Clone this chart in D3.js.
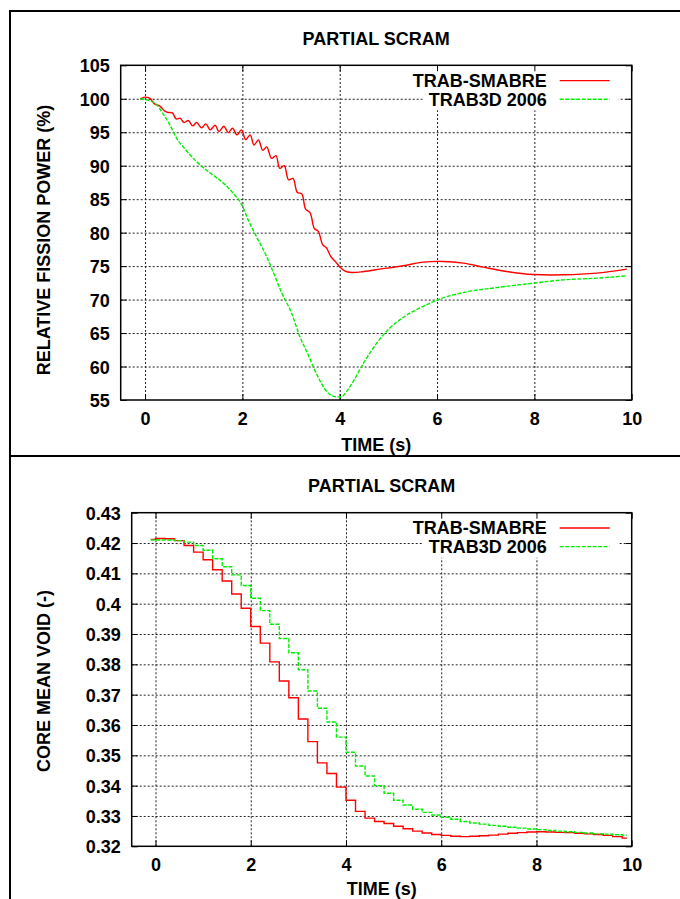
<!DOCTYPE html>
<html>
<head>
<meta charset="utf-8">
<script src="https://cdn.jsdelivr.net/npm/d3@7"></script>
<style>
  html, body { margin: 0; padding: 0; background: #fff; }
  svg { display: block; }
  text { font-family: "Liberation Sans", Arial, Helvetica, sans-serif; font-weight: bold; fill: #000; }
</style>
</head>
<body>
<svg id="chart" width="680" height="899"></svg>
<script>
// ---- Data: partial scram transient, TRAB-SMABRE vs TRAB3D 2006 ----

// Relative fission power (%) vs time (s)
const powerSmabre = [
  [-0.1, 100.0], [0.0, 100.25], [0.1, 100.05], [0.2, 99.2], [0.3, 98.95], [0.4, 98.2],
  [0.48, 97.95], [0.56, 97.9], [0.64, 97.0], [0.72, 97.1], [0.80, 96.45], [0.89, 96.75],
  [0.98, 95.95], [1.06, 96.45], [1.16, 95.65], [1.25, 96.25], [1.34, 95.35], [1.44, 96.05],
  [1.52, 95.1], [1.62, 95.9], [1.71, 94.95], [1.80, 95.6], [1.89, 94.6], [1.98, 95.35],
  [2.07, 93.9], [2.16, 94.6], [2.24, 93.1], [2.33, 93.85], [2.42, 92.3], [2.50, 92.8],
  [2.60, 91.1], [2.69, 91.5], [2.77, 89.6], [2.86, 90.0], [2.95, 87.9], [3.04, 88.1],
  [3.13, 86.0], [3.22, 85.8], [3.30, 83.5], [3.39, 83.0], [3.48, 80.6], [3.56, 80.2],
  [3.65, 78.2], [3.73, 77.7], [3.82, 76.4], [3.92, 75.6], [4.0, 74.9], [4.1, 74.3],
  [4.25, 74.05], [4.5, 74.2], [4.83, 74.55], [5.3, 75.05], [5.72, 75.6], [6.13, 75.7],
  [6.54, 75.45], [6.95, 74.85], [7.43, 74.2], [7.98, 73.75], [8.6, 73.7], [9.28, 73.95],
  [9.9, 74.55]
];
const powerTrab3d = [
  [-0.1, 100.0], [0.1, 99.7], [0.24, 99.1], [0.34, 98.1], [0.51, 96.1], [0.65, 94.1],
  [0.82, 92.5], [1.06, 90.6], [1.34, 88.9], [1.61, 87.4], [1.81, 85.9], [1.99, 84.15],
  [2.12, 81.9], [2.29, 79.4], [2.5, 76.4], [2.64, 74.0], [2.81, 71.0], [3.01, 68.0],
  [3.18, 64.5], [3.35, 61.8], [3.53, 58.8], [3.73, 56.3], [3.9, 55.5], [4.02, 55.45],
  [4.21, 57.0], [4.49, 60.5], [4.76, 63.5], [5.03, 65.75], [5.38, 67.7], [5.72, 69.0],
  [6.06, 70.1], [6.54, 71.05], [7.23, 71.8], [7.98, 72.45], [8.6, 72.95], [9.28, 73.2],
  [9.9, 73.55]
];

// Core mean void (-) vs time (s)
const voidSmabre = [
  [-0.1, 0.4212], [0.1, 0.4215], [0.3, 0.4214], [0.5, 0.4208], [0.7, 0.4192], [0.9, 0.4170],
  [1.1, 0.4145], [1.3, 0.4112], [1.5, 0.4075], [1.7, 0.4032], [1.9, 0.3985], [2.1, 0.3925],
  [2.3, 0.3870], [2.5, 0.3808], [2.7, 0.3745], [2.9, 0.3690], [3.1, 0.3620], [3.3, 0.3545],
  [3.5, 0.3475], [3.7, 0.3440], [3.9, 0.3395], [4.1, 0.3352], [4.3, 0.3315], [4.5, 0.3293],
  [4.7, 0.3282], [4.9, 0.3275], [5.1, 0.3266], [5.3, 0.3258], [5.5, 0.3250], [5.7, 0.3244],
  [5.9, 0.3239], [6.1, 0.3236], [6.3, 0.3233], [6.5, 0.3232], [6.7, 0.3233], [6.9, 0.3235],
  [7.1, 0.3237], [7.3, 0.3240], [7.5, 0.3243], [7.7, 0.3245], [7.9, 0.3247], [8.1, 0.3248],
  [8.3, 0.3247], [8.5, 0.3246], [8.7, 0.3245], [8.9, 0.3243], [9.1, 0.3241], [9.3, 0.3239],
  [9.5, 0.3236], [9.7, 0.3232], [9.9, 0.3227]
];
const voidTrab3d = [
  [-0.1, 0.4210], [0.1, 0.4210], [0.3, 0.4210], [0.5, 0.4208], [0.7, 0.4203], [0.9, 0.4192],
  [1.1, 0.4176], [1.3, 0.4148], [1.5, 0.4122], [1.7, 0.4095], [1.9, 0.4060], [2.1, 0.4018],
  [2.3, 0.3977], [2.5, 0.3932], [2.7, 0.3885], [2.9, 0.3838], [3.1, 0.3782], [3.3, 0.3712],
  [3.5, 0.3655], [3.7, 0.3610], [3.9, 0.3560], [4.1, 0.3510], [4.3, 0.3465], [4.5, 0.3432],
  [4.7, 0.3400], [4.9, 0.3375], [5.1, 0.3352], [5.3, 0.3336], [5.5, 0.3322], [5.7, 0.3312],
  [5.9, 0.3303], [6.1, 0.3296], [6.3, 0.3289], [6.5, 0.3282], [6.7, 0.3277], [6.9, 0.3273],
  [7.1, 0.3269], [7.3, 0.3266], [7.5, 0.3263], [7.7, 0.3260], [7.9, 0.3257], [8.1, 0.3255],
  [8.3, 0.3252], [8.5, 0.3250], [8.7, 0.3248], [8.9, 0.3246], [9.1, 0.3244], [9.3, 0.3241],
  [9.5, 0.3240], [9.7, 0.3238], [9.9, 0.3237]
];

// Axis ticks and labels
const timeTicks = [0, 2, 4, 6, 8, 10];
const powerTicks = [55, 60, 65, 70, 75, 80, 85, 90, 95, 100, 105];
const voidTicks = [0.32, 0.33, 0.34, 0.35, 0.36, 0.37, 0.38, 0.39, 0.40, 0.41, 0.42, 0.43];
const seriesNames = ["TRAB-SMABRE", "TRAB3D 2006"];
const panelTitle = "PARTIAL SCRAM";
const timeLabel = "TIME (s)";
const powerLabel = "RELATIVE FISSION POWER (%)";
const voidLabel = "CORE MEAN VOID (-)";

const RED = "#ff0000", GREEN = "#00ee00";
const FONT = 18;

const svg = d3.select("#chart");
svg.append("rect").attr("width", 680).attr("height", 899).attr("fill", "#fff");

// Outer frame and divider between the two panels
svg.append("path").attr("d", "M10,899V11H680").attr("fill", "none")
  .attr("stroke", "#000").attr("stroke-width", 2);
svg.append("line").attr("x1", 10).attr("x2", 680).attr("y1", 456).attr("y2", 456)
  .attr("stroke", "#000").attr("stroke-width", 2);

function drawPanel(cfg) {
  const { left, right, top, bottom } = cfg.box;
  const w = right - left, h = bottom - top;
  const g = svg.append("g").attr("transform", `translate(${left},${top})`);
  const x = d3.scaleLinear().domain([-0.5, 10]).range([0, w]);
  const y = d3.scaleLinear().domain(cfg.yDomain).range([h, 0]);
  const clipId = "clip-" + cfg.id;
  g.append("clipPath").attr("id", clipId).append("rect").attr("width", w).attr("height", h);

  // dotted grid
  const gridStyle = sel => {
    sel.select(".domain").remove();
    sel.selectAll("line").attr("stroke", "#222").attr("stroke-width", 1)
      .attr("stroke-dasharray", "2,2");
  };
  g.append("g").attr("transform", `translate(0,${h})`)
    .call(d3.axisBottom(x).tickValues(timeTicks.filter(t => t < 10)).tickSize(-h).tickFormat(""))
    .call(gridStyle);
  g.append("g")
    .call(d3.axisLeft(y).tickValues(cfg.yTicks.slice(1, -1)).tickSize(-w).tickFormat(""))
    .call(gridStyle);

  // opaque key background
  g.append("rect").attr("x", w - 209).attr("y", 1).attr("width", 196).attr("height", 44)
    .attr("fill", "#fff");

  // tick marks on all four sides, with labels on bottom/left
  const tickStyle = sel => {
    sel.select(".domain").remove();
    sel.selectAll("line").attr("stroke", "#000").attr("stroke-width", 1);
    sel.selectAll("text").attr("font-size", FONT).attr("fill", "#000")
      .style("font-family", '"Liberation Sans", Arial, sans-serif').style("font-weight", "bold");
  };
  g.append("g").attr("transform", `translate(0,${h})`)
    .call(d3.axisBottom(x).tickValues(timeTicks).tickSizeInner(-6).tickSizeOuter(0).tickPadding(12))
    .call(tickStyle);
  g.append("g")
    .call(d3.axisTop(x).tickValues(timeTicks).tickSizeInner(-6).tickSizeOuter(0).tickFormat(""))
    .call(tickStyle);
  g.append("g")
    .call(d3.axisLeft(y).tickValues(cfg.yTicks).tickSizeInner(-6).tickSizeOuter(0)
      .tickPadding(11).tickFormat(cfg.yFormat))
    .call(tickStyle)
    .call(sel => sel.selectAll("text").attr("dy", "0.36em"));
  g.append("g").attr("transform", `translate(${w},0)`)
    .call(d3.axisRight(y).tickValues(cfg.yTicks).tickSizeInner(-6).tickSizeOuter(0).tickFormat(""))
    .call(tickStyle);

  // curves
  const line = d3.line().x(d => x(d[0])).y(d => y(d[1]));
  const lines = g.append("g").attr("clip-path", `url(#${clipId})`);
  lines.append("path").datum(cfg.series[0]).attr("d", line.curve(cfg.curve[0]))
    .attr("fill", "none").attr("stroke", RED).attr("stroke-width", 1.4);
  lines.append("path").datum(cfg.series[1]).attr("d", line.curve(cfg.curve[1]))
    .attr("fill", "none").attr("stroke", GREEN).attr("stroke-width", 1.4)
    .attr("stroke-dasharray", "4,1.5");

  // plot border
  g.append("rect").attr("width", w).attr("height", h).attr("fill", "none")
    .attr("stroke", "#000").attr("stroke-width", 1.5);

  // key
  const key = g.append("g");
  seriesNames.forEach((name, i) => {
    const cy = 15.3 + i * 18.6;
    key.append("text").attr("x", w - 85).attr("y", cy + 6.4).attr("text-anchor", "end")
      .attr("font-size", FONT).text(name);
    key.append("line").attr("x1", w - 72).attr("x2", w - 22).attr("y1", cy).attr("y2", cy)
      .attr("stroke", i === 0 ? RED : GREEN).attr("stroke-width", 1.4)
      .attr("stroke-dasharray", i === 0 ? null : "4,1.5");
  });

  // titles
  svg.append("text").attr("x", left + w / 2).attr("y", top - 20.5).attr("text-anchor", "middle")
    .attr("font-size", FONT).text(panelTitle);
  svg.append("text").attr("x", left + w / 2).attr("y", Math.min(bottom + 50.5, 894.5))
    .attr("text-anchor", "middle").attr("font-size", FONT).text(timeLabel);
  svg.append("text").attr("transform", `translate(50,${cfg.yLabelCenter}) rotate(-90)`)
    .attr("text-anchor", "middle").attr("font-size", FONT).text(cfg.yLabel);
}

drawPanel({
  id: "power",
  box: { left: 120.7, right: 631.7, top: 65.3, bottom: 400 },
  yDomain: [55, 105],
  yTicks: powerTicks,
  yFormat: d => String(d),
  yLabel: powerLabel,
  yLabelCenter: 240,
  series: [powerSmabre, powerTrab3d],
  curve: [d3.curveCatmullRom, d3.curveMonotoneX]
});

drawPanel({
  id: "void",
  box: { left: 131.7, right: 631.7, top: 512.7, bottom: 846.3 },
  yDomain: [0.32, 0.43],
  yTicks: voidTicks,
  yFormat: d => String(+d.toFixed(2)),
  yLabel: voidLabel,
  yLabelCenter: 681,
  series: [voidSmabre, voidTrab3d],
  curve: [d3.curveStep, d3.curveStep]
});
</script>
</body>
</html>
